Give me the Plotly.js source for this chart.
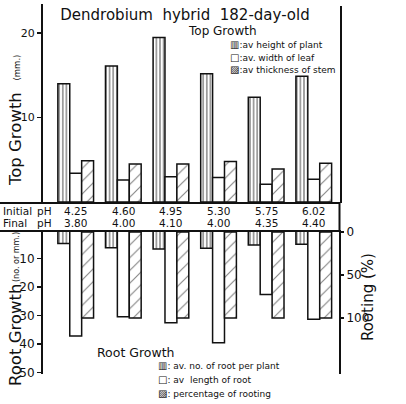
<!DOCTYPE html>
<html>
<head>
<meta charset="utf-8">
<script src="https://cdn.plot.ly/plotly-3.0.1.min.js"></script>
<style>html,body{margin:0;padding:0;background:#fff;}#chart{width:406px;height:404px;}</style>
</head>
<body>
<div id="chart"></div>
<script>
// ---- data ----
var initialPH = ['4.25', '4.60', '4.95', '5.30', '5.75', '6.02'];
var finalPH = ['3.80', '4.00', '4.10', '4.00', '4.35', '4.40'];
// Top growth (mm.)
var heightOfPlant = [14.0, 16.1, 19.5, 15.2, 12.4, 14.9];
var widthOfLeaf = [3.4, 2.6, 3.0, 2.9, 2.1, 2.7];
var thicknessOfStem = [4.9, 4.5, 4.5, 4.8, 3.9, 4.6];
// Root growth (no. or mm.)
var rootsPerPlant = [4.7, 6.2, 6.7, 6.4, 5.3, 5.0];
var rootLength = [37.2, 30.4, 32.5, 39.5, 22.6, 31.3];
// Rooting (%)
var rootingPercent = [100, 100, 100, 100, 100, 100];

var topTicks = [10, 20];
var rootTicks = [10, 20, 30, 40, 50];
var rootingTicks = [0, 50, 100];

var FONT = 'DejaVu Sans, Arial, sans-serif';
var W = 406, H = 404;
function px(x) { return x / W; }
function py(y) { return 1 - y / H; }

var lineStyle = {color: '#111', width: 1.5};
function bar(y, xa, ya, offset, pattern) {
  var m = {color: '#fff', line: lineStyle};
  if (pattern) m.pattern = pattern;
  return {
    type: 'bar', x: initialPH, y: y, xaxis: xa, yaxis: ya,
    width: 0.25, offset: offset, marker: m, hoverinfo: 'skip'
  };
}
var vStripe = {shape: '|', size: 3.6, solidity: 0.42, fgcolor: '#111', bgcolor: '#fff', fillmode: 'overlay'};
var hatch = {shape: '/', size: 9, solidity: 0.13, fgcolor: '#111', bgcolor: '#fff', fillmode: 'overlay'};

var data = [
  bar(heightOfPlant, 'x', 'y', -0.375, vStripe),
  bar(widthOfLeaf, 'x', 'y', -0.125, null),
  bar(thicknessOfStem, 'x', 'y', 0.125, hatch),
  bar(rootsPerPlant, 'x2', 'y2', -0.375, vStripe),
  bar(rootLength, 'x2', 'y2', -0.125, null),
  bar(rootingPercent, 'x2', 'y3', 0.125, hatch)
];

var xDomain = [px(43), px(339)];
var xRange = [-0.687, 5.53];
function xax(anchor) {
  return {domain: xDomain, range: xRange, type: 'category', anchor: anchor,
    showticklabels: false, showline: false, showgrid: false, zeroline: false, ticks: ''};
}
var axisCommon = {showline: true, linewidth: 2, linecolor: '#111', ticks: 'outside',
  ticklen: 4, tickwidth: 1.5, tickcolor: '#111', showgrid: false, zeroline: false,
  tickfont: {family: FONT, size: 11, color: '#111'}};

var annotations = [];
function ann(text, x, y, size, opts) {
  var a = {text: text, x: px(x), y: py(y), xref: 'paper', yref: 'paper', showarrow: false,
    font: {family: FONT, size: size, color: '#111'}, xanchor: 'center', yanchor: 'middle'};
  for (var k in (opts || {})) a[k] = opts[k];
  annotations.push(a);
}
// pH table
ann('Initial', 0.5, 210.5, 10.5, {xanchor: 'left'});
ann('pH', 35, 210.5, 10.5, {xanchor: 'left'});
ann('Final', 1, 223, 10.5, {xanchor: 'left'});
ann('pH', 35, 223, 10.5, {xanchor: 'left'});
for (var i = 0; i < initialPH.length; i++) {
  annotations.push({text: initialPH[i], x: i, xref: 'x', y: py(210.5), yref: 'paper', showarrow: false,
    font: {family: FONT, size: 10.5, color: '#111'}, xanchor: 'center', yanchor: 'middle'});
  annotations.push({text: finalPH[i], x: i, xref: 'x', y: py(223), yref: 'paper', showarrow: false,
    font: {family: FONT, size: 10.5, color: '#111'}, xanchor: 'center', yanchor: 'middle'});
}
// section labels and legends
var sw = function (c) { return '<span style="font-size:10px">' + c + '</span>'; };
ann('Top Growth', 222, 31, 12);
ann(sw('\u25A5') + ':av height of plant', 228, 45, 9, {xanchor: 'left'});
ann(sw('\u25A1') + ':av. width of leaf', 228, 57.5, 9, {xanchor: 'left'});
ann(sw('\u25A8') + ':av thickness of stem', 228, 70, 9, {xanchor: 'left'});
ann('Root Growth', 136, 352, 12.5);
ann(sw('\u25A5') + ': av. no. of root per plant', 156, 365, 9, {xanchor: 'left'});
ann(sw('\u25A1') + ': av  length of root', 156, 379, 9, {xanchor: 'left'});
ann(sw('\u25A8') + ': percentage of rooting', 156, 393, 9, {xanchor: 'left'});
// axis titles
ann('Top Growth', 15, 139, 16.5, {textangle: -90});
ann('(mm.)', 16, 67.5, 8.5, {textangle: -90});
ann('Root Growth', 15, 335, 16.5, {textangle: -90});
ann('(no. or mm.)', 16, 257, 8, {textangle: -90});
ann('Rooting (%)', 368, 297, 15, {textangle: -90});

var shapes = [
  {type: 'line', xref: 'paper', yref: 'paper', x0: 0, x1: px(340), y0: py(203), y1: py(203), line: {color: '#111', width: 2}},
  {type: 'line', xref: 'paper', yref: 'paper', x0: 0, x1: px(340), y0: py(231), y1: py(231), line: {color: '#111', width: 2}},
  {type: 'line', xref: 'paper', yref: 'paper', x0: px(339.5), x1: px(339.5), y0: py(203), y1: py(231), line: {color: '#111', width: 2}},
  {type: 'line', xref: 'paper', yref: 'paper', x0: px(341), x1: px(341), y0: py(6), y1: py(203), line: {color: '#111', width: 2}}
];

var layout = {
  width: W, height: H, margin: {l: 0, r: 0, t: 0, b: 0},
  paper_bgcolor: '#fff', plot_bgcolor: 'rgba(0,0,0,0)', showlegend: false,
  title: {text: 'Dendrobium  hybrid  182-day-old', x: px(185), y: py(14.5), xanchor: 'center', yanchor: 'middle',
    font: {family: FONT, size: 15, color: '#111'}},
  xaxis: xax('y'),
  xaxis2: xax('y2'),
  yaxis: Object.assign({}, axisCommon, {domain: [py(202), py(4)], range: [0, 23.46], tickvals: topTicks, anchor: 'x'}),
  yaxis2: Object.assign({}, axisCommon, {domain: [py(374), py(230)], range: [50.5, 0], tickvals: rootTicks, anchor: 'x2',
    tickfont: {family: FONT, size: 12, color: '#111'}}),
  yaxis3: Object.assign({}, axisCommon, {domain: [py(374), py(230)], range: [165.1, -2.3], tickvals: rootingTicks,
    overlaying: 'y2', side: 'right', anchor: 'x2', ticklen: 3, tickfont: {family: FONT, size: 12, color: '#111'}}),
  annotations: annotations,
  shapes: shapes
};

Plotly.newPlot('chart', data, layout, {displayModeBar: false, staticPlot: true});
</script>
</body>
</html>
